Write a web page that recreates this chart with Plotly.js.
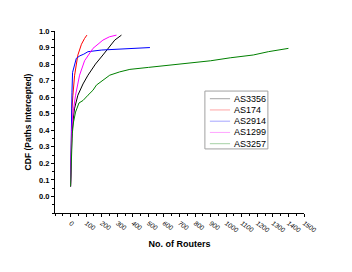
<!DOCTYPE html>
<html><head><meta charset="utf-8">
<script src="https://cdn.plot.ly/plotly-3.0.1.min.js"></script>
<style>html,body{margin:0;padding:0;background:#fff}#c{width:352px;height:272px}</style>
</head><body><div id="c"></div>
<script>
const names = ['AS3356','AS174','AS2914','AS1299','AS3257'];
const colors = ['#000000','#ff0000','#0000ff','#ff00ff','#008000'];
const x3356 = [0, 3, 8, 15, 25, 47, 80, 112, 160, 208, 250, 284, 327];
const y3356 = [0.06, 0.2, 0.35, 0.45, 0.53, 0.612, 0.68, 0.733, 0.80, 0.855, 0.905, 0.945, 0.975];
const x174 = [0, 2, 5, 9, 15, 26, 47, 70, 90, 105];
const y174 = [0.06, 0.25, 0.42, 0.53, 0.612, 0.733, 0.855, 0.92, 0.955, 0.975];
const x2914 = [0, 2, 5, 9, 13, 25, 37, 45, 60, 85, 112, 200, 300, 400, 510];
const y2914 = [0.06, 0.3, 0.5, 0.63, 0.75, 0.8, 0.835, 0.84, 0.85, 0.86, 0.875, 0.885, 0.89, 0.895, 0.90];
const x1299 = [0, 3, 8, 15, 32, 58, 90, 144, 208, 250, 295];
const y1299 = [0.06, 0.25, 0.4, 0.5, 0.612, 0.733, 0.82, 0.895, 0.945, 0.965, 0.975];
const x3257 = [0, 4, 11, 19, 32, 54, 80, 112, 144, 166, 252, 316, 381, 500, 703, 900, 1026, 1174, 1271, 1400];
const y3257 = [0.06, 0.25, 0.38, 0.45, 0.51, 0.565, 0.58, 0.612, 0.642, 0.673, 0.733, 0.753, 0.768, 0.78, 0.80, 0.82, 0.838, 0.855, 0.875, 0.895];
const xTicks = [0,100,200,300,400,500,600,700,800,900,1000,1100,1200,1300,1400,1500];
const yTicks = [0,0.1,0.2,0.3,0.4,0.5,0.6,0.7,0.8,0.9,1.0];

const xs = [x3356, x174, x2914, x1299, x3257];
const ys = [y3356, y174, y2914, y1299, y3257];
const traces = names.map((n,i)=>({x: xs[i], y: ys[i], name: n, type:'scatter', mode:'lines',
  line:{color: colors[i], width: 1}, showlegend: false}));

const F = 'Liberation Sans, Arial, sans-serif';

// manual legend (paper coordinates)
const L = {x0: 0.602, x1: 0.855, yTop: 0.670, yBot: 0.352, lx0: 0.622, lx1: 0.703, tx: 0.712, step: 0.0618, first: 0.628};
const shapes = [{type:'rect', xref:'paper', yref:'paper', x0:L.x0, x1:L.x1, y0:L.yBot, y1:L.yTop,
  line:{color:'#a0a0a0', width:1}, fillcolor:'#fff', layer:'above'}];
const annotations = [];
names.forEach((n,i)=>{
  const yy = L.first - i*L.step;
  shapes.push({type:'line', xref:'paper', yref:'paper', x0:L.lx0, x1:L.lx1, y0:yy, y1:yy,
    line:{color: colors[i], width:1}, opacity:0.35, layer:'above'});
  annotations.push({xref:'paper', yref:'paper', x:L.tx, y:yy, text:n, showarrow:false,
    xanchor:'left', yanchor:'middle', font:{family:F, size:9, color:'#000'}});
});

const layout = {
  width: 352, height: 272,
  margin: {l: 55, r: 48, t: 31, b: 59},
  paper_bgcolor: '#fff', plot_bgcolor: '#fff',
  showlegend: false,
  shapes: shapes, annotations: annotations,
  xaxis: {range: [-100, 1500], tickvals: xTicks, ticks: 'outside', ticklen: 3, tickwidth: 1,
    tickcolor: '#000', showline: true, linecolor: '#000', linewidth: 1, showgrid: false, zeroline: false,
    tickangle: 35, tickfont: {family: F, size: 6.5, style: 'italic', color: '#000'},
    minor: {dtick: 50, tick0: 0, ticks: 'outside', ticklen: 2, tickcolor: '#000', showgrid: false},
    title: {text: 'No. of Routers', font: {family: F, size: 9, weight: 'bold', color: '#000'}, standoff: 8}},
  yaxis: {range: [-0.1, 1.0], tickvals: yTicks, tickformat: '.1f', ticks: 'outside', ticklen: 3, tickwidth: 1,
    tickcolor: '#000', showline: true, linecolor: '#000', linewidth: 1, showgrid: false, zeroline: false,
    tickfont: {family: F, size: 7.5, weight: 'bold', color: '#000'},
    minor: {dtick: 0.05, tick0: 0, ticks: 'outside', ticklen: 2, tickcolor: '#000', showgrid: false},
    title: {text: 'CDF (Paths Intercepted)', font: {family: F, size: 8.5, weight: 'bold', color: '#000'}, standoff: 6}}
};
Plotly.newPlot('c', traces, layout, {staticPlot: true, displayModeBar: false});
</script></body></html>
